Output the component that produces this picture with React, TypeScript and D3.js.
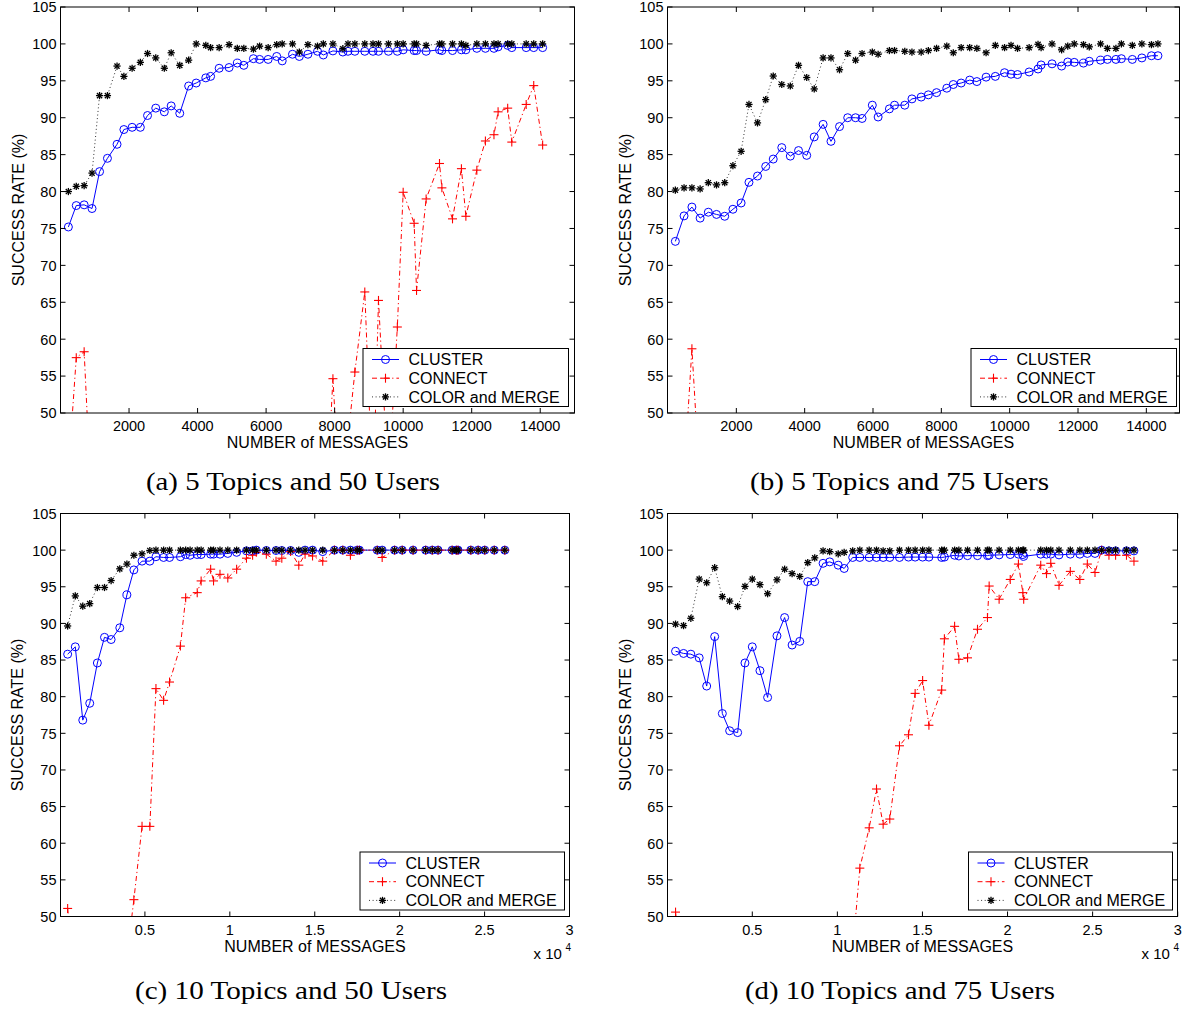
import React from 'react';
import * as d3 from 'd3';

// ---------- data ----------
const yTickValues = [50, 55, 60, 65, 70, 75, 80, 85, 90, 95, 100, 105];
const xTicksAB = [2000, 4000, 6000, 8000, 10000, 12000, 14000];
const xTicksCD = [5000, 10000, 15000, 20000, 25000, 30000];
const seriesNames = ['CLUSTER', 'CONNECT', 'COLOR and MERGE'];
const captions = ['(a) 5 Topics and 50 Users', '(b) 5 Topics and 75 Users', '(c) 10 Topics and 50 Users', '(d) 10 Topics and 75 Users'];

// (a) 5 topics, 50 users
const aX = [230, 460, 690, 920, 1140, 1370, 1650, 1850, 2090, 2330, 2540, 2780, 3030, 3230, 3480, 3740, 3960, 4240, 4380, 4630, 4920, 5160, 5350, 5630, 5810, 6060, 6310, 6470, 6770, 6970, 7220, 7500, 7670, 7950, 8240, 8390, 8590, 8880, 9120, 9280, 9570, 9830, 10000, 10320, 10390, 10670, 11060, 11130, 11440, 11700, 11830, 12150, 12400, 12650, 12770, 13050, 13170, 13590, 13810, 14070];
const aCluster = [75.2, 78.1, 78.2, 77.7, 82.7, 84.5, 86.4, 88.4, 88.7, 88.7, 90.3, 91.3, 90.8, 91.6, 90.6, 94.3, 94.7, 95.4, 95.6, 96.7, 96.8, 97.4, 97.1, 98.0, 97.9, 97.9, 98.3, 97.7, 98.6, 98.3, 98.6, 99.0, 98.5, 99.05, 98.9, 99.0, 99.0, 99.0, 99.0, 99.0, 99.0, 99.0, 99.2, 99.1, 99.1, 99.0, 99.2, 99.1, 99.1, 99.2, 99.2, 99.4, 99.4, 99.4, 99.6, 99.8, 99.5, 99.5, 99.5, 99.5];
const aColor = [80.0, 80.7, 80.8, 82.5, 93.0, 93.0, 97.0, 95.6, 96.7, 97.5, 98.7, 98.1, 96.7, 98.8, 97.1, 97.8, 100, 99.8, 99.5, 99.5, 99.9, 99.4, 99.4, 99.3, 99.7, 99.5, 99.9, 100, 100, 98.9, 99.9, 99.7, 100, 100, 99.35, 100, 100, 100, 100, 100, 100, 100, 100, 100, 100, 99.8, 100, 100, 100, 100, 99.8, 100, 100, 100, 100, 100, 100, 100, 100, 100];
const aConnectX = [230, 460, 690, 920, 7670, 7950, 8240, 8390, 8590, 8880, 9120, 9280, 9570, 9830, 10000, 10320, 10390, 10670, 11060, 11130, 11440, 11700, 11830, 12150, 12400, 12650, 12770, 13050, 13170, 13590, 13810, 14070];
const aConnect = [42, 57.5, 58.3, 36, 29.5, 54.65, 31.4, 46.6, 55.55, 66.4, 38, 65.25, 40, 61.65, 79.9, 75.7, 66.6, 79.0, 83.8, 80.5, 76.3, 83.1, 76.65, 82.9, 86.85, 87.7, 90.8, 91.3, 86.7, 91.8, 94.35, 86.3];

// (b) 5 topics, 75 users
const bX = [215, 470, 700, 940, 1180, 1420, 1660, 1900, 2140, 2370, 2620, 2860, 3080, 3330, 3580, 3820, 4060, 4280, 4540, 4770, 5020, 5260, 5490, 5680, 5980, 6150, 6480, 6630, 6930, 7140, 7410, 7620, 7860, 8160, 8350, 8580, 8830, 9040, 9310, 9580, 9850, 10040, 10230, 10570, 10830, 10920, 11240, 11520, 11700, 11890, 12160, 12330, 12660, 12860, 13110, 13270, 13590, 13870, 14150, 14340];
const bCluster = [73.25, 76.7, 77.9, 76.4, 77.2, 76.9, 76.65, 77.6, 78.45, 81.25, 82.1, 83.4, 84.4, 85.95, 84.8, 85.55, 84.9, 87.4, 89.1, 86.8, 88.8, 90.0, 90.0, 89.9, 91.7, 90.1, 91.2, 91.7, 91.7, 92.55, 92.8, 93.1, 93.4, 94.0, 94.5, 94.7, 95.1, 94.9, 95.5, 95.6, 96.1, 95.9, 95.85, 96.2, 96.6, 97.15, 97.3, 97.0, 97.55, 97.5, 97.4, 97.65, 97.8, 97.9, 97.9, 98.0, 97.9, 98.1, 98.4, 98.4];
const bColor = [80.2, 80.5, 80.5, 80.35, 81.2, 80.9, 81.2, 83.5, 85.45, 91.8, 89.3, 92.45, 95.65, 94.5, 94.3, 97.1, 95.45, 93.9, 98.1, 98.1, 96.5, 98.7, 97.8, 98.7, 98.9, 98.6, 99.1, 99.1, 99.0, 98.9, 98.9, 99.1, 99.4, 99.7, 98.8, 99.5, 99.5, 99.4, 98.8, 99.8, 99.5, 99.8, 99.4, 99.5, 99.95, 99.5, 100, 99.2, 99.7, 100, 99.9, 99.6, 100, 99.4, 99.4, 100, 99.8, 100, 99.9, 100];
const bConnectX = [470, 700, 940];
const bConnect = [41.3, 58.7, 39.7];

// (c) 10 topics, 50 users
const cX = [450, 900, 1340, 1750, 2200, 2620, 3010, 3520, 3940, 4350, 4830, 5290, 5650, 6100, 6450, 7090, 7400, 7660, 8080, 8310, 8870, 9040, 9420, 9880, 10400, 10980, 11340, 11560, 12150, 12720, 13060, 13580, 14060, 14430, 14870, 15470, 16160, 16650, 17100, 17500, 17630, 18680, 18970, 19700, 20150, 20790, 21530, 21920, 22260, 23090, 23340, 23440, 24190, 24620, 25010, 25570, 26190];
const cCluster = [85.8, 86.8, 76.8, 79.1, 84.6, 88.1, 87.8, 89.4, 93.9, 97.3, 98.5, 98.5, 99.1, 99.0, 99.0, 99.1, 99.4, 99.3, 99.4, 99.4, 99.45, 99.45, 99.45, 99.55, 99.7, 99.9, 99.9, 100, 99.95, 99.95, 99.95, 99.95, 99.7, 100, 100, 99.8, 100, 100, 100, 100, 100, 100, 100, 100, 100, 100, 100, 100, 100, 100, 100, 100, 100, 100, 100, 100, 100];
const cColor = [89.65, 93.75, 92.35, 92.7, 94.9, 94.9, 95.85, 97.45, 98.1, 99.3, 99.5, 99.95, 100, 100, 100, 100, 100, 100, 100, 100, 100, 100, 100, 100, 100, 100, 100, 100, 100, 100, 100, 100, 100, 100, 100, 100, 100, 100, 100, 100, 100, 100, 100, 100, 100, 100, 100, 100, 100, 100, 100, 100, 100, 100, 100, 100, 100];
const cConnectX = [450, 900, 3940, 4350, 4830, 5290, 5650, 6100, 6450, 7090, 7400, 8080, 8310, 8870, 9040, 9420, 9880, 10400, 10980, 11340, 11560, 12150, 12720, 13060, 13580, 14060, 14430, 14870, 15470, 16160, 16650, 17100, 17500, 17630, 18680, 18970, 19700, 20150, 20790, 21530, 21920, 22260, 23090, 23340, 23440, 24190, 24620, 25010, 25570, 26190];
const cConnect = [51.1, 40, 44.4, 52.3, 62.3, 62.3, 81.1, 79.5, 82.0, 86.9, 93.5, 94.2, 95.8, 97.4, 95.8, 96.7, 96.2, 97.4, 98.9, 99.3, 99.7, 99.45, 98.5, 98.9, 99.8, 97.95, 99.45, 99.2, 98.5, 100, 100, 99.3, 100, 100, 100, 99.0, 100, 100, 100, 100, 100, 100, 100, 100, 100, 100, 100, 100, 100, 100];

// (d) 10 topics, 75 users
const dX = [490, 960, 1390, 1880, 2320, 2790, 3240, 3670, 4140, 4570, 5000, 5450, 5900, 6450, 6900, 7340, 7790, 8260, 8670, 9160, 9550, 10050, 10400, 10900, 11320, 11870, 12300, 12690, 13080, 13650, 14180, 14570, 15010, 15380, 16130, 16290, 16890, 17140, 17650, 18235, 18820, 18920, 19505, 20160, 20640, 20900, 20950, 21950, 22290, 22540, 23025, 23690, 24250, 24690, 25140, 25530, 25960, 26350, 26990, 27430];
const dCluster = [86.2, 85.9, 85.8, 85.3, 81.45, 88.2, 77.7, 75.35, 75.1, 84.6, 86.8, 83.55, 79.9, 88.3, 90.8, 87.05, 87.55, 95.7, 95.7, 98.2, 98.4, 97.95, 97.5, 99.0, 99.0, 99.0, 99.0, 99.0, 99.0, 99.0, 99.05, 99.05, 99.05, 99.05, 99.0, 99.05, 99.3, 99.2, 99.25, 99.25, 99.25, 99.3, 99.35, 99.4, 99.45, 99.4, 99.15, 99.45, 99.45, 99.45, 99.35, 99.45, 99.45, 99.55, 99.55, 100, 99.9, 99.9, 99.9, 99.9];
const dColor = [89.9, 89.7, 90.7, 96.05, 95.55, 97.6, 93.65, 93.05, 92.3, 95.05, 96.05, 95.3, 94.05, 95.95, 97.4, 96.8, 96.4, 98.3, 98.95, 99.9, 99.8, 99.5, 99.7, 99.9, 100, 100, 100, 99.9, 99.9, 100, 100, 100, 100, 100, 100, 100, 100, 100, 100, 100, 100, 100, 100, 100, 100, 100, 100, 100, 100, 100, 100, 100, 100, 100, 100, 100, 100, 100, 100, 100];
const dConnectX = [490, 960, 10900, 11320, 11870, 12300, 12690, 13080, 13650, 14180, 14570, 15010, 15380, 16130, 16290, 16890, 17140, 17650, 18235, 18820, 18920, 19505, 20160, 20640, 20900, 20950, 21950, 22290, 22540, 23025, 23690, 24250, 24690, 25140, 25530, 25960, 26350, 26990, 27430];
const dConnect = [50.6, 40, 45.3, 56.6, 62.1, 67.4, 62.6, 63.3, 73.3, 74.8, 80.45, 82.2, 76.1, 80.9, 87.9, 89.6, 85.1, 85.3, 89.2, 90.8, 95.1, 93.3, 96.0, 98.1, 94.2, 93.3, 97.95, 96.8, 98.2, 95.2, 97.1, 96.0, 98.1, 96.95, 100, 99.3, 99.3, 99.3, 98.5];

// ---------- styling ----------
const SANS = "'Liberation Sans', Arial, Helvetica, sans-serif";
const SERIF = "'Liberation Serif', 'Times New Roman', serif";
const BLUE = '#0000ff';
const RED = '#ff0000';
const DASHDOT = '5,3,1.2,3';
const DOTTED = '1,2.6';

type Kind = 'cluster' | 'connect' | 'color';

function Marker({ kind, cx, cy }: { kind: Kind; cx: number; cy: number }) {
  if (kind === 'cluster') {
    return <circle cx={cx} cy={cy} r={4} fill="none" stroke={BLUE} strokeWidth={1} />;
  }
  if (kind === 'connect') {
    const s = 4.5;
    return (
      <g stroke={RED} strokeWidth={1.1}>
        <line x1={cx - s} y1={cy} x2={cx + s} y2={cy} />
        <line x1={cx} y1={cy - s} x2={cx} y2={cy + s} />
      </g>
    );
  }
  const s = 3.6;
  const d = 2.6;
  return (
    <g stroke="#000" strokeWidth={1.3}>
      <line x1={cx - s} y1={cy} x2={cx + s} y2={cy} />
      <line x1={cx} y1={cy - s} x2={cx} y2={cy + s} />
      <line x1={cx - d} y1={cy - d} x2={cx + d} y2={cy + d} />
      <line x1={cx - d} y1={cy + d} x2={cx + d} y2={cy - d} />
    </g>
  );
}

const lineStyle: Record<Kind, { stroke: string; dash?: string; width: number }> = {
  cluster: { stroke: BLUE, width: 1 },
  connect: { stroke: RED, dash: DASHDOT, width: 1 },
  color: { stroke: '#333', dash: DOTTED, width: 1 },
};

interface PanelProps {
  id: string;
  box: { x0: number; x1: number; y0: number; y1: number };
  xRange: [number, number];
  xMax: number;
  xTicks: number[];
  xFmt: (v: number) => string;
  clusterX: number[];
  cluster: number[];
  connectX: number[];
  connect: number[];
  colorX: number[];
  color: number[];
  legend: { x: number; y: number; w: number; h: number };
  caption: string;
  capX: number;
  capY: number;
  capLen: number;
  ylabX: number;
  exp: boolean;
}

function Panel(p: PanelProps) {
  const { box } = p;
  const x = d3.scaleLinear().domain([0, p.xMax]).range(p.xRange);
  const y = d3.scaleLinear().domain([50, 105]).range([box.y1, box.y0]);
  const line = d3.line<[number, number]>().x((d) => x(d[0])).y((d) => y(d[1]));
  const mk = (xs: number[], ys: number[]) => xs.map((v, i) => [v, ys[i]] as [number, number]);
  const series: { kind: Kind; pts: [number, number][] }[] = [
    { kind: 'cluster', pts: mk(p.clusterX, p.cluster) },
    { kind: 'connect', pts: mk(p.connectX, p.connect) },
    { kind: 'color', pts: mk(p.colorX, p.color) },
  ];
  const clipId = `clip-${p.id}`;
  const tl = 5;
  const midX = (box.x0 + box.x1) / 2;
  const midY = (box.y0 + box.y1) / 2;
  const lg = p.legend;
  const kinds: Kind[] = ['cluster', 'connect', 'color'];
  return (
    <g>
      <defs>
        <clipPath id={clipId}>
          <rect x={box.x0} y={box.y0} width={box.x1 - box.x0} height={box.y1 - box.y0} />
        </clipPath>
      </defs>
      <rect x={box.x0} y={box.y0} width={box.x1 - box.x0} height={box.y1 - box.y0} fill="#fff" />
      <g clipPath={`url(#${clipId})`}>
        {series.map((s) => (
          <path
            key={s.kind}
            d={line(s.pts) || ''}
            fill="none"
            stroke={lineStyle[s.kind].stroke}
            strokeWidth={lineStyle[s.kind].width}
            strokeDasharray={lineStyle[s.kind].dash}
          />
        ))}
      </g>
      {series.map((s) => (
        <g key={s.kind + 'm'}>
          {s.pts
            .filter((d) => d[1] >= 50 && d[1] <= 105)
            .map((d, i) => (
              <Marker key={i} kind={s.kind} cx={x(d[0])} cy={y(d[1])} />
            ))}
        </g>
      ))}
      {/* axes box and ticks */}
      <rect x={box.x0} y={box.y0} width={box.x1 - box.x0} height={box.y1 - box.y0} fill="none" stroke="#000" strokeWidth={1} />
      <g stroke="#000" strokeWidth={1}>
        {p.xTicks.map((t) => (
          <g key={'xt' + t}>
            <line x1={x(t)} x2={x(t)} y1={box.y1} y2={box.y1 - tl} />
            <line x1={x(t)} x2={x(t)} y1={box.y0} y2={box.y0 + tl} />
          </g>
        ))}
        {yTickValues.map((t) => (
          <g key={'yt' + t}>
            <line x1={box.x0} x2={box.x0 + tl} y1={y(t)} y2={y(t)} />
            <line x1={box.x1} x2={box.x1 - tl} y1={y(t)} y2={y(t)} />
          </g>
        ))}
      </g>
      <g fontFamily={SANS} fontSize={14.5} fill="#000">
        {p.xTicks.map((t) => (
          <text key={'xl' + t} x={x(t)} y={box.y1 + 18} textAnchor="middle">
            {p.xFmt(t)}
          </text>
        ))}
        {yTickValues.map((t) => (
          <text key={'yl' + t} x={box.x0 - 4} y={y(t) + 5.4} textAnchor="end">
            {t}
          </text>
        ))}
      </g>
      <text x={midX} y={box.y1 + 35} textAnchor="middle" fontFamily={SANS} fontSize={16}>
        NUMBER of MESSAGES
      </text>
      <text
        transform={`translate(${p.ylabX},${midY}) rotate(-90)`}
        textAnchor="middle"
        fontFamily={SANS}
        fontSize={16}
      >
        SUCCESS RATE (%)
      </text>
      {p.exp && (
        <g fontFamily={SANS} fill="#000">
          <text x={box.x1 - 36} y={box.y1 + 42} fontSize={15}>x 10</text>
          <text x={box.x1 - 4} y={box.y1 + 34} fontSize={10}>4</text>
        </g>
      )}
      {/* legend */}
      <rect x={lg.x} y={lg.y} width={lg.w} height={lg.h} fill="#fff" stroke="#000" strokeWidth={1} />
      {kinds.map((k, i) => {
        const ry = lg.y + 11 + i * 18.7;
        const st = lineStyle[k];
        return (
          <g key={'lg' + k}>
            <line
              x1={lg.x + 9}
              x2={lg.x + 36}
              y1={ry}
              y2={ry}
              stroke={st.stroke}
              strokeWidth={st.width}
              strokeDasharray={st.dash}
            />
            <Marker kind={k} cx={lg.x + 22.5} cy={ry} />
            <text x={lg.x + 45.5} y={ry + 5.7} fontFamily={SANS} fontSize={16}>
              {seriesNames[i]}
            </text>
          </g>
        );
      })}
      <text
        x={p.capX}
        y={p.capY}
        textAnchor="middle"
        fontFamily={SERIF}
        fontSize={25}
        textLength={p.capLen}
        lengthAdjust="spacingAndGlyphs"
      >
        {p.caption}
      </text>
    </g>
  );
}

const fmtAB = (v: number) => String(v);
const fmtCD = (v: number) => String(v / 10000);

export default function App() {
  return (
    <svg
      width={1185}
      height={1010}
      viewBox="0 0 1185 1010"
      style={{ position: 'absolute', left: 0, top: 0, background: '#fff' }}
    >
      <rect x={0} y={0} width={1185} height={1010} fill="#fff" />
      <Panel
        id="a"
        box={{ x0: 60.5, x1: 574.5, y0: 7, y1: 413 }}
        xRange={[60.5, 574.5]}
        xMax={15000}
        xTicks={xTicksAB}
        xFmt={fmtAB}
        clusterX={aX}
        cluster={aCluster}
        connectX={aConnectX}
        connect={aConnect}
        colorX={aX}
        color={aColor}
        legend={{ x: 363, y: 348.5, w: 205.5, h: 58 }}
        caption={captions[0]}
        capX={293}
        capY={490}
        capLen={294}
        ylabX={24}
        exp={false}
      />
      <Panel
        id="b"
        box={{ x0: 667.5, x1: 1179.5, y0: 7, y1: 413 }}
        xRange={[668, 1180.5]}
        xMax={15000}
        xTicks={xTicksAB}
        xFmt={fmtAB}
        clusterX={bX}
        cluster={bCluster}
        connectX={bConnectX}
        connect={bConnect}
        colorX={bX}
        color={bColor}
        legend={{ x: 971, y: 348.5, w: 205.5, h: 58 }}
        caption={captions[1]}
        capX={899.5}
        capY={490}
        capLen={299}
        ylabX={631}
        exp={false}
      />
      <Panel
        id="c"
        box={{ x0: 60.5, x1: 569.5, y0: 513.5, y1: 916.5 }}
        xRange={[60, 569.5]}
        xMax={30000}
        xTicks={xTicksCD}
        xFmt={fmtCD}
        clusterX={cX}
        cluster={cCluster}
        connectX={cConnectX}
        connect={cConnect}
        colorX={cX}
        color={cColor}
        legend={{ x: 360, y: 852, w: 204.5, h: 58 }}
        caption={captions[2]}
        capX={291}
        capY={999}
        capLen={312}
        ylabX={23}
        exp={true}
      />
      <Panel
        id="d"
        box={{ x0: 667.5, x1: 1177.5, y0: 513.5, y1: 916.5 }}
        xRange={[667.2, 1177.7]}
        xMax={30000}
        xTicks={xTicksCD}
        xFmt={fmtCD}
        clusterX={dX}
        cluster={dCluster}
        connectX={dConnectX}
        connect={dConnect}
        colorX={dX}
        color={dColor}
        legend={{ x: 968.5, y: 852, w: 204, h: 58 }}
        caption={captions[3]}
        capX={900}
        capY={999}
        capLen={310}
        ylabX={631}
        exp={true}
      />
    </svg>
  );
}
